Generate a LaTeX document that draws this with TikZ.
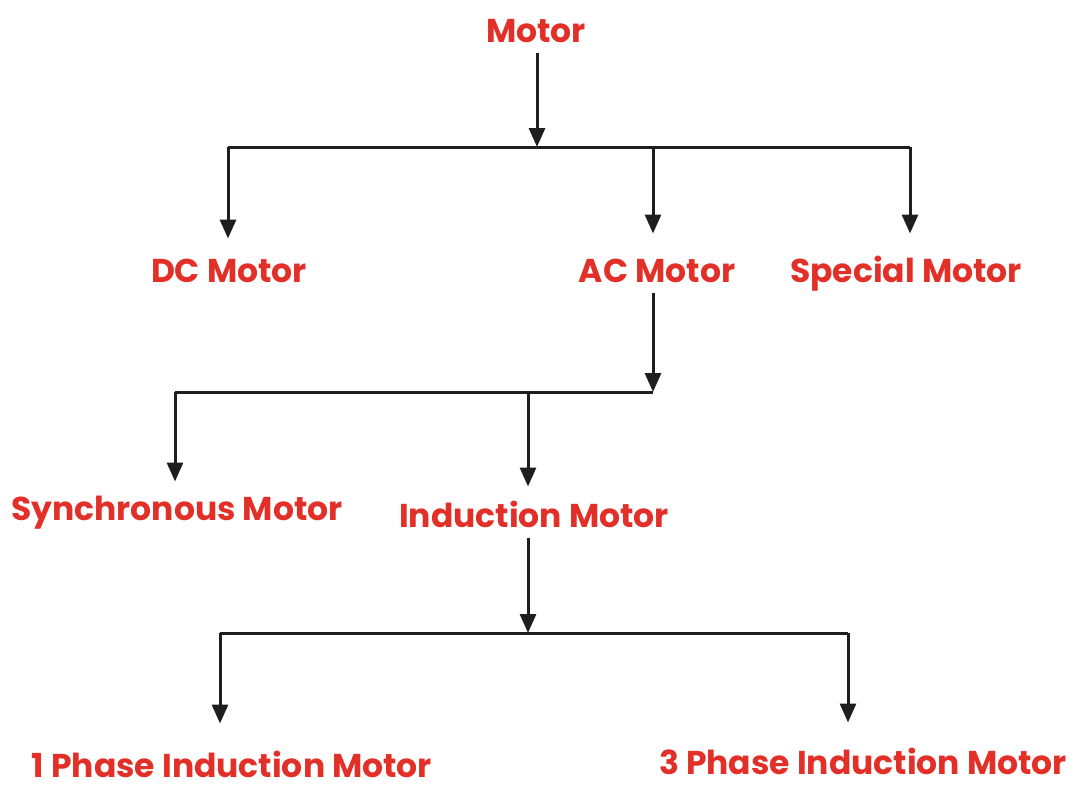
\documentclass[tikz,border=0pt]{standalone}
\usepackage{fontspec}
\setmainfont{Poppins}
\usetikzlibrary{arrows.meta}
\definecolor{motorrot}{RGB}{226,48,40}
\definecolor{linie}{RGB}{30,30,30}
\begin{document}
\begin{tikzpicture}[x=1pt,y=-1pt,>={Triangle[width=16pt,length=19pt]},
  line width=3pt,
  lbl/.style={text=motorrot,font=\fontsize{33}{37}\selectfont\bfseries,
    inner sep=2pt,text height=24pt,text depth=7pt,anchor=base},
  unten/.style={lbl,text depth=0pt,inner sep=1pt},
  ast/.style={draw=linie}]
\useasboundingbox (0,0) rectangle (1079,787);
%
% Beschriftungen (Grundlinie)
%
\node[lbl] (motor) at (536,42) {Motor};
\node[lbl] (dc)    at (229,282) {DC Motor};
\node[lbl] (ac)    at (657,282) {AC Motor};
\node[lbl] (spec)  at (906,282) {Special Motor};
\node[lbl] (syn)   at (177,520) {Synchronous Motor};
\node[lbl] (ind)   at (534,527) {Induction Motor};
\node[unten] (one)   at (232,777) {1 Phase Induction Motor};
\node[unten] (three) at (863,774) {3 Phase Induction Motor};
%
% --- Ebene 1: Motor ---
\coordinate (e1m) at (537,147);
\coordinate (e1l) at (228,147);
\coordinate (e1a) at (653,147);
\coordinate (e1r) at (910,147);
\draw[ast,->] (motor.south -| e1m) -- (e1m);
\draw[ast] (e1l) -- (e1r);
\draw[ast,->,shorten >=16pt] (e1l) -- (e1l |- dc.north);
\draw[ast,->,shorten >=21pt] (e1a) -- (e1a |- ac.north);
\draw[ast,->,shorten >=21pt] (e1r) -- (e1r |- spec.north);
%
% --- Ebene 2: AC Motor ---
\coordinate (e2r) at (653,392);
\coordinate (e2l) at (175,392);
\coordinate (e2m) at (528,392);
\draw[ast,->] (ac.south -| e2r) -- (e2r);
\draw[ast] (e2l) -- (e2r);
\draw[ast,->,shorten >=11pt] (e2l) -- (e2l |- syn.north);
\draw[ast,->,shorten >=13pt] (e2m) -- (e2m |- ind.north);
%
% --- Ebene 3: Induction Motor ---
\coordinate (e3m) at (528,633);
\coordinate (e3l) at (220,633);
\coordinate (e3r) at (848,633);
\draw[ast,->] (ind.south -| e3m) -- (e3m);
\draw[ast] (e3l) -- (e3r);
\draw[ast,->,shorten >=27pt] (e3l) -- (e3l |- one.north);
\draw[ast,->,shorten >=25pt] (e3r) -- (e3r |- three.north);
\end{tikzpicture}
\end{document}
